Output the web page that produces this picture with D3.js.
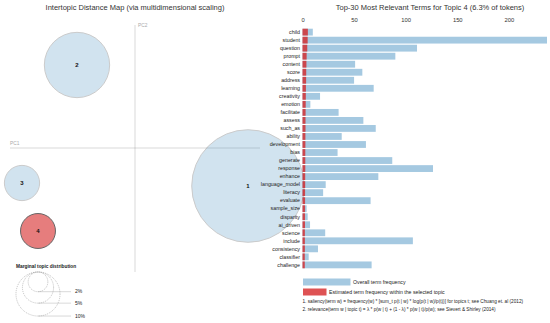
<!DOCTYPE html>
<html><head><meta charset="utf-8">
<script src="https://cdn.jsdelivr.net/npm/d3@7"></script>
<style>
body{margin:0;background:#fff;}
text{font-family:"Liberation Sans",Arial,sans-serif;}
</style></head>
<body><svg id="c" width="550" height="323"></svg>
<script>
// ---- data ----
const topicIds = [1, 2, 3, 4];
const topicPC1 = [0.226, -0.116, -0.226, -0.194];
const topicPC2 = [-0.076, 0.166, -0.070, -0.166];
const topicPct = [65.3, 22.0, 6.4, 6.3];
const selectedTopic = 4;
const legendPct = [2, 5, 10];
const legendLabels = ["2%", "5%", "10%"];

const terms = ["child","student","question","prompt","content","score","address","learning","creativity","emotion","facilitate","assess","such_as","ability","development","bias","generate","response","enhance","language_model","literacy","evaluate","sample_size","disparity","ai_driven","science","include","consistency","classifier","challenge"];
const totalFreq = [10, 237, 111, 90, 51, 58, 50, 69, 17, 7.6, 35, 59, 71, 38, 61.5, 34, 87, 126.5, 73.5, 22.5, 20, 66, 4, 5, 7.3, 22, 107, 15, 6, 67];
const topicFreq = [5.2, 5.0, 4.6, 4.0, 3.8, 3.6, 3.5, 3.3, 3.2, 3.1, 3.0, 2.9, 2.9, 2.8, 2.8, 2.7, 2.7, 2.7, 2.6, 2.6, 2.5, 2.5, 2.4, 2.4, 2.4, 2.3, 2.3, 2.3, 2.2, 2.2];
const xTicks = [0, 50, 100, 150, 200];

const color1 = "#1f77b4", color2 = "#d62728";
const svg = d3.select("#c");

// ---- left panel ----
const px = d3.scaleLinear().domain([0, 0.25]).range([135, 260]);
const py = d3.scaleLinear().domain([0, 0.25]).range([148, 23]);
const rs = d3.scaleSqrt().domain([0, 100]).range([0, Math.sqrt(100 * 48.5)]);

svg.append("text").attr("x", 135).attr("y", 10).attr("text-anchor", "middle")
  .style("font-size", "7.5px").attr("fill", "#333")
  .text("Intertopic Distance Map (via multidimensional scaling)");

svg.append("line").attr("x1", 10).attr("x2", 260).attr("y1", py(0)).attr("y2", py(0))
  .attr("stroke", "gray").attr("stroke-opacity", 0.3);
svg.append("line").attr("x1", px(0)).attr("x2", px(0)).attr("y1", 25).attr("y2", 272)
  .attr("stroke", "gray").attr("stroke-opacity", 0.3);
svg.append("text").attr("x", 10).attr("y", py(0) - 3).style("font-size", "4.8px").attr("fill", "#aaa").text("PC1");
svg.append("text").attr("x", px(0) + 3).attr("y", 27).style("font-size", "4.8px").attr("fill", "#aaa").text("PC2");

const topics = topicIds.map((id, i) => ({id, x: topicPC1[i], y: topicPC2[i], p: topicPct[i]}));
const dots = svg.append("g");
topics.forEach(t => {
  const sel = t.id === selectedTopic;
  dots.append("circle").attr("cx", px(t.x)).attr("cy", py(t.y)).attr("r", rs(t.p))
    .attr("fill", sel ? color2 : color1).attr("stroke", "black")
    .attr("opacity", sel ? 0.6 : 0.2);
  dots.append("text").attr("x", px(t.x)).attr("y", py(t.y) + 2).attr("text-anchor", "middle")
    .style("font-size", "6px").style("font-weight", "bold").attr("fill", "#111").text(t.id);
});

// legend circles
const mdsH = 272, cx = 38;
const rL = rs(10), cx2 = cx + 1.5 * rL;
svg.append("text").attr("x", 16).attr("y", 268).style("font-size", "4.8px").style("font-weight", "bold")
  .attr("fill", "#222").text("Marginal topic distribution");
legendPct.forEach((p, i) => {
  const r = rs(p);
  svg.append("circle").attr("cx", cx).attr("cy", mdsH + r).attr("r", r)
    .attr("fill", "none").attr("stroke", "#999").attr("stroke-dasharray", "1 1").attr("stroke-width", 0.6);
  svg.append("line").attr("x1", cx).attr("x2", cx2).attr("y1", mdsH + 2 * r).attr("y2", mdsH + 2 * r)
    .attr("stroke", "gray").attr("stroke-opacity", 0.3);
  svg.append("text").attr("x", cx2 + 4).attr("y", mdsH + 2 * r + 1.7).style("font-size", "5px")
    .attr("fill", "#222").text(legendLabels[i]);
});

// ---- right panel ----
const x = d3.scaleLinear().domain([0, d3.max(totalFreq)]).range([302.5, 547]);
const y = d3.scaleBand().domain(terms).range([27.5, 269.5]).padding(0.15);

svg.append("text").attr("x", 430).attr("y", 10).attr("text-anchor", "middle")
  .style("font-size", "7.5px").attr("fill", "#333")
  .text("Top-30 Most Relevant Terms for Topic 4 (6.3% of tokens)");

const ax = svg.append("g").attr("transform", "translate(0,25)")
  .call(d3.axisTop(x).tickValues(xTicks).tickSize(0).tickPadding(3));
ax.select(".domain").remove();
ax.selectAll("text").style("font-size", "5.8px").attr("fill", "#333")
  .style("font-family", "'Liberation Sans',Arial,sans-serif");

const bars = svg.append("g");
terms.forEach((t, i) => {
  bars.append("rect").attr("x", x(0)).attr("y", y(t)).attr("width", x(totalFreq[i]) - x(0))
    .attr("height", y.bandwidth()).attr("fill", color1).attr("opacity", 0.4);
  bars.append("rect").attr("x", x(0)).attr("y", y(t)).attr("width", x(topicFreq[i]) - x(0))
    .attr("height", y.bandwidth()).attr("fill", color2).attr("opacity", 0.8);
  bars.append("text").attr("x", 300).attr("y", y(t) + y.bandwidth() / 2 + 1.8)
    .attr("text-anchor", "end").style("font-size", "5.3px").attr("fill", "#222").text(t);
});

// bar legend
svg.append("rect").attr("x", 303).attr("y", 278.5).attr("width", 47.5).attr("height", 7)
  .attr("fill", color1).attr("opacity", 0.4);
svg.append("text").attr("x", 353).attr("y", 284).style("font-size", "5.2px").attr("fill", "#222")
  .text("Overall term frequency");
svg.append("rect").attr("x", 303).attr("y", 288.5).attr("width", 23.5).attr("height", 7)
  .attr("fill", color2).attr("opacity", 0.8);
svg.append("text").attr("x", 329).attr("y", 294).style("font-size", "5.2px").attr("fill", "#222")
  .text("Estimated term frequency within the selected topic");
svg.append("text").attr("x", 302.5).attr("y", 303).style("font-size", "4.7px").attr("fill", "#222")
  .text("1. saliency(term w) = frequency(w) * [sum_t p(t | w) * log(p(t | w)/p(t))] for topics t; see Chuang et. al (2012)");
svg.append("text").attr("x", 302.5).attr("y", 311).style("font-size", "4.7px").attr("fill", "#222")
  .text("2. relevance(term w | topic t) = \u03bb * p(w | t) + (1 - \u03bb) * p(w | t)/p(w); see Sievert & Shirley (2014)");
</script></body></html>
